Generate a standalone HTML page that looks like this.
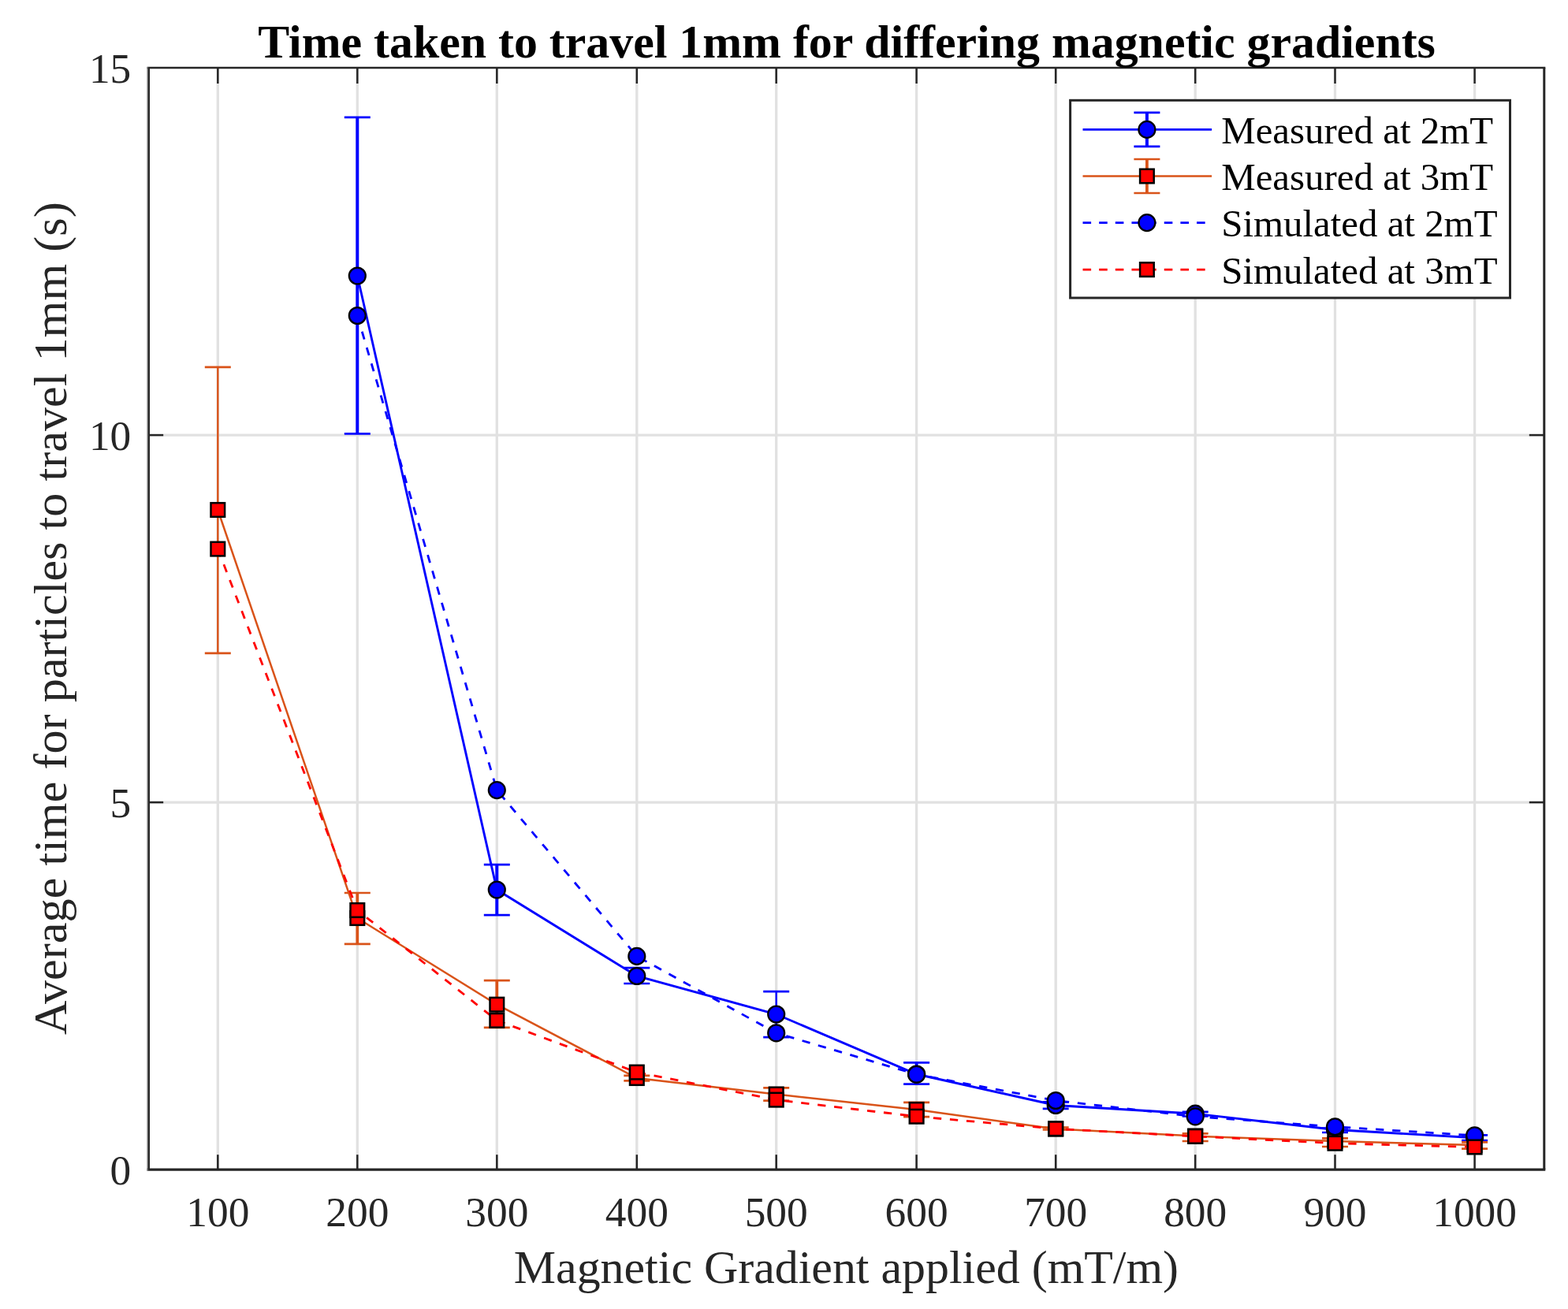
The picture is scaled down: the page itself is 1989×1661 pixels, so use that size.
<!DOCTYPE html>
<html lang="en">
<head>
<meta charset="utf-8">
<title>Time taken to travel 1mm for differing magnetic gradients</title>
<style>
html,body{margin:0;padding:0;background:#fff;}
body{width:1989px;height:1661px;overflow:hidden;}
svg{display:block;}
</style>
</head>
<body>
<svg width="1989" height="1661" viewBox="0 0 1989 1661" font-family='"Liberation Serif", "DejaVu Serif", serif'>
<rect width="1989" height="1661" fill="#fff"/>
<g stroke="#e1e1e1" stroke-width="3.3" fill="none">
<line x1="276.30" y1="86.1" x2="276.30" y2="1484.1"/>
<line x1="453.30" y1="86.1" x2="453.30" y2="1484.1"/>
<line x1="630.30" y1="86.1" x2="630.30" y2="1484.1"/>
<line x1="807.80" y1="86.1" x2="807.80" y2="1484.1"/>
<line x1="984.70" y1="86.1" x2="984.70" y2="1484.1"/>
<line x1="1162.60" y1="86.1" x2="1162.60" y2="1484.1"/>
<line x1="1339.20" y1="86.1" x2="1339.20" y2="1484.1"/>
<line x1="1516.20" y1="86.1" x2="1516.20" y2="1484.1"/>
<line x1="1693.50" y1="86.1" x2="1693.50" y2="1484.1"/>
<line x1="1870.60" y1="86.1" x2="1870.60" y2="1484.1"/>
<line x1="188.2" y1="1018.10" x2="1958.8" y2="1018.10"/>
<line x1="188.2" y1="552.10" x2="1958.8" y2="552.10"/>
</g>
<g stroke="#262626" stroke-width="2.5" fill="none">
<line x1="276.30" y1="1484.1" x2="276.30" y2="1465.1999999999998"/>
<line x1="276.30" y1="86.1" x2="276.30" y2="106.0"/>
<line x1="453.30" y1="1484.1" x2="453.30" y2="1465.1999999999998"/>
<line x1="453.30" y1="86.1" x2="453.30" y2="106.0"/>
<line x1="630.30" y1="1484.1" x2="630.30" y2="1465.1999999999998"/>
<line x1="630.30" y1="86.1" x2="630.30" y2="106.0"/>
<line x1="807.80" y1="1484.1" x2="807.80" y2="1465.1999999999998"/>
<line x1="807.80" y1="86.1" x2="807.80" y2="106.0"/>
<line x1="984.70" y1="1484.1" x2="984.70" y2="1465.1999999999998"/>
<line x1="984.70" y1="86.1" x2="984.70" y2="106.0"/>
<line x1="1162.60" y1="1484.1" x2="1162.60" y2="1465.1999999999998"/>
<line x1="1162.60" y1="86.1" x2="1162.60" y2="106.0"/>
<line x1="1339.20" y1="1484.1" x2="1339.20" y2="1465.1999999999998"/>
<line x1="1339.20" y1="86.1" x2="1339.20" y2="106.0"/>
<line x1="1516.20" y1="1484.1" x2="1516.20" y2="1465.1999999999998"/>
<line x1="1516.20" y1="86.1" x2="1516.20" y2="106.0"/>
<line x1="1693.50" y1="1484.1" x2="1693.50" y2="1465.1999999999998"/>
<line x1="1693.50" y1="86.1" x2="1693.50" y2="106.0"/>
<line x1="1870.60" y1="1484.1" x2="1870.60" y2="1465.1999999999998"/>
<line x1="1870.60" y1="86.1" x2="1870.60" y2="106.0"/>
<line x1="188.2" y1="1018.10" x2="207.2" y2="1018.10"/>
<line x1="1958.8" y1="1018.10" x2="1939.8" y2="1018.10"/>
<line x1="188.2" y1="552.10" x2="207.2" y2="552.10"/>
<line x1="1958.8" y1="552.10" x2="1939.8" y2="552.10"/>
<path d="M186.6 86.1H1960.3" stroke-width="2.5"/>
<path d="M186.6 1484.1H1960.3" stroke-width="3.4"/>
<path d="M187.1 84.89999999999999V1485.8" stroke-width="1.4" stroke="#8a8a8a"/>
<path d="M188.79999999999998 86.1V1484.1" stroke-width="2.4"/>
<path d="M1958.8 86.1V1484.1" stroke-width="3.0"/>
</g>
<g stroke="#0000ff" fill="none">
<path stroke-width="4.0" d="M453.30 148.90V550.40"/><path stroke-width="2.7" d="M436.80 148.90H469.80M436.80 550.40H469.80"/>
<path stroke-width="4.0" d="M630.30 1097.20V1161.10"/><path stroke-width="2.7" d="M613.80 1097.20H646.80M613.80 1161.10H646.80"/>
<path stroke-width="4.0" d="M807.80 1228.10V1248.00"/><path stroke-width="2.7" d="M791.30 1228.10H824.30M791.30 1248.00H824.30"/>
<path stroke-width="2.4" d="M984.70 1258.10V1316.20"/><path stroke-width="2.7" d="M968.20 1258.10H1001.20M968.20 1316.20H1001.20"/>
<path stroke-width="4.0" d="M1162.60 1348.40V1375.70"/><path stroke-width="2.7" d="M1146.10 1348.40H1179.10M1146.10 1375.70H1179.10"/>
<path stroke-width="4.0" d="M1339.20 1398.30V1406.80"/><path stroke-width="2.7" d="M1322.70 1398.30H1355.70M1322.70 1406.80H1355.70"/>
<path stroke-width="4.0" d="M1516.20 1410.90V1416.50"/><path stroke-width="2.7" d="M1499.70 1410.90H1532.70M1499.70 1416.50H1532.70"/>
<path stroke-width="4.0" d="M1693.50 1431.50V1437.00"/><path stroke-width="2.7" d="M1677.00 1431.50H1710.00M1677.00 1437.00H1710.00"/>
<path stroke-width="4.0" d="M1870.60 1440.30V1447.10"/><path stroke-width="2.7" d="M1854.10 1440.30H1887.10M1854.10 1447.10H1887.10"/>
</g>
<polyline points="453.30,350.00 630.30,1129.00 807.80,1238.50 984.70,1287.00 1162.60,1363.00 1339.20,1402.50 1516.20,1413.20 1693.50,1433.50 1870.60,1443.70" fill="none" stroke="#0000ff" stroke-width="2.9"/>
<circle cx="453.30" cy="350.00" r="10.45" fill="#0000ff" stroke="#000" stroke-width="2.3"/>
<circle cx="630.30" cy="1129.00" r="10.45" fill="#0000ff" stroke="#000" stroke-width="2.3"/>
<circle cx="807.80" cy="1238.50" r="10.45" fill="#0000ff" stroke="#000" stroke-width="2.3"/>
<circle cx="984.70" cy="1287.00" r="10.45" fill="#0000ff" stroke="#000" stroke-width="2.3"/>
<circle cx="1162.60" cy="1363.00" r="10.45" fill="#0000ff" stroke="#000" stroke-width="2.3"/>
<circle cx="1339.20" cy="1402.50" r="10.45" fill="#0000ff" stroke="#000" stroke-width="2.3"/>
<circle cx="1516.20" cy="1413.20" r="10.45" fill="#0000ff" stroke="#000" stroke-width="2.3"/>
<circle cx="1693.50" cy="1433.50" r="10.45" fill="#0000ff" stroke="#000" stroke-width="2.3"/>
<circle cx="1870.60" cy="1443.70" r="10.45" fill="#0000ff" stroke="#000" stroke-width="2.3"/>
<g stroke="#d95319" fill="none">
<path stroke-width="2.4" d="M276.30 465.80V828.90"/><path stroke-width="2.7" d="M259.80 465.80H292.80M259.80 828.90H292.80"/>
<path stroke-width="3.8" d="M453.30 1133.00V1197.90"/><path stroke-width="2.7" d="M436.80 1133.00H469.80M436.80 1197.90H469.80"/>
<path stroke-width="3.8" d="M630.30 1244.20V1303.90"/><path stroke-width="2.7" d="M613.80 1244.20H646.80M613.80 1303.90H646.80"/>
<path stroke-width="3.8" d="M807.80 1364.80V1371.30"/><path stroke-width="2.7" d="M791.30 1364.80H824.30M791.30 1371.30H824.30"/>
<path stroke-width="3.8" d="M984.70 1380.30V1396.60"/><path stroke-width="2.7" d="M968.20 1380.30H1001.20M968.20 1396.60H1001.20"/>
<path stroke-width="3.8" d="M1162.60 1398.80V1417.10"/><path stroke-width="2.7" d="M1146.10 1398.80H1179.10M1146.10 1417.10H1179.10"/>
<path stroke-width="3.8" d="M1339.20 1430.50V1433.50"/><path stroke-width="2.7" d="M1322.70 1430.50H1355.70M1322.70 1433.50H1355.70"/>
<path stroke-width="3.8" d="M1516.20 1438.40V1448.00"/><path stroke-width="2.7" d="M1499.70 1438.40H1532.70M1499.70 1448.00H1532.70"/>
<path stroke-width="3.8" d="M1693.50 1444.40V1455.00"/><path stroke-width="2.7" d="M1677.00 1444.40H1710.00M1677.00 1455.00H1710.00"/>
<path stroke-width="3.8" d="M1870.60 1449.40V1457.70"/><path stroke-width="2.7" d="M1854.10 1449.40H1887.10M1854.10 1457.70H1887.10"/>
</g>
<polyline points="276.30,647.00 453.30,1165.00 630.30,1274.70 807.80,1368.00 984.70,1388.50 1162.60,1408.00 1339.20,1432.50 1516.20,1441.60 1693.50,1448.00 1870.60,1453.00" fill="none" stroke="#d95319" stroke-width="2.5"/>
<rect x="267.50" y="638.20" width="17.6" height="17.6" fill="#ff0000" stroke="#000" stroke-width="2.5"/>
<rect x="444.50" y="1156.20" width="17.6" height="17.6" fill="#ff0000" stroke="#000" stroke-width="2.5"/>
<rect x="621.50" y="1265.90" width="17.6" height="17.6" fill="#ff0000" stroke="#000" stroke-width="2.5"/>
<rect x="799.00" y="1359.20" width="17.6" height="17.6" fill="#ff0000" stroke="#000" stroke-width="2.5"/>
<rect x="975.90" y="1379.70" width="17.6" height="17.6" fill="#ff0000" stroke="#000" stroke-width="2.5"/>
<rect x="1153.80" y="1399.20" width="17.6" height="17.6" fill="#ff0000" stroke="#000" stroke-width="2.5"/>
<rect x="1330.40" y="1423.70" width="17.6" height="17.6" fill="#ff0000" stroke="#000" stroke-width="2.5"/>
<rect x="1507.40" y="1432.80" width="17.6" height="17.6" fill="#ff0000" stroke="#000" stroke-width="2.5"/>
<rect x="1684.70" y="1439.20" width="17.6" height="17.6" fill="#ff0000" stroke="#000" stroke-width="2.5"/>
<rect x="1861.80" y="1444.20" width="17.6" height="17.6" fill="#ff0000" stroke="#000" stroke-width="2.5"/>
<polyline points="453.30,400.50 630.30,1002.60 807.80,1213.40 984.70,1310.80 1162.60,1363.30 1339.20,1396.50 1516.20,1416.80 1693.50,1429.75 1870.60,1440.80" fill="none" stroke="#0000ff" stroke-width="2.8" stroke-dasharray="10.3 10.8"/>
<circle cx="453.30" cy="400.50" r="10.45" fill="#0000ff" stroke="#000" stroke-width="2.3"/>
<circle cx="630.30" cy="1002.60" r="10.45" fill="#0000ff" stroke="#000" stroke-width="2.3"/>
<circle cx="807.80" cy="1213.40" r="10.45" fill="#0000ff" stroke="#000" stroke-width="2.3"/>
<circle cx="984.70" cy="1310.80" r="10.45" fill="#0000ff" stroke="#000" stroke-width="2.3"/>
<circle cx="1162.60" cy="1363.30" r="10.45" fill="#0000ff" stroke="#000" stroke-width="2.3"/>
<circle cx="1339.20" cy="1396.50" r="10.45" fill="#0000ff" stroke="#000" stroke-width="2.3"/>
<circle cx="1516.20" cy="1416.80" r="10.45" fill="#0000ff" stroke="#000" stroke-width="2.3"/>
<circle cx="1693.50" cy="1429.75" r="10.45" fill="#0000ff" stroke="#000" stroke-width="2.3"/>
<circle cx="1870.60" cy="1440.80" r="10.45" fill="#0000ff" stroke="#000" stroke-width="2.3"/>
<polyline points="276.30,696.60 453.30,1155.00 630.30,1294.85 807.80,1360.60 984.70,1395.60 1162.60,1416.70 1339.20,1432.30 1516.20,1441.90 1693.50,1450.70 1870.60,1455.50" fill="none" stroke="#ff0000" stroke-width="2.8" stroke-dasharray="10.3 10.8"/>
<rect x="267.50" y="687.80" width="17.6" height="17.6" fill="#ff0000" stroke="#000" stroke-width="2.5"/>
<rect x="444.50" y="1146.20" width="17.6" height="17.6" fill="#ff0000" stroke="#000" stroke-width="2.5"/>
<rect x="621.50" y="1286.05" width="17.6" height="17.6" fill="#ff0000" stroke="#000" stroke-width="2.5"/>
<rect x="799.00" y="1351.80" width="17.6" height="17.6" fill="#ff0000" stroke="#000" stroke-width="2.5"/>
<rect x="975.90" y="1386.80" width="17.6" height="17.6" fill="#ff0000" stroke="#000" stroke-width="2.5"/>
<rect x="1153.80" y="1407.90" width="17.6" height="17.6" fill="#ff0000" stroke="#000" stroke-width="2.5"/>
<rect x="1330.40" y="1423.50" width="17.6" height="17.6" fill="#ff0000" stroke="#000" stroke-width="2.5"/>
<rect x="1507.40" y="1433.10" width="17.6" height="17.6" fill="#ff0000" stroke="#000" stroke-width="2.5"/>
<rect x="1684.70" y="1441.90" width="17.6" height="17.6" fill="#ff0000" stroke="#000" stroke-width="2.5"/>
<rect x="1861.80" y="1446.70" width="17.6" height="17.6" fill="#ff0000" stroke="#000" stroke-width="2.5"/>
<rect x="1357.6" y="127.3" width="557.90" height="250.70" fill="#fff" stroke="#262626" stroke-width="3"/>
<g stroke="#0000ff" fill="none"><path stroke-width="2.9" d="M1373.5 164.4H1537.1"/><path stroke-width="4.0" d="M1454.90 142.90V185.90"/><path stroke-width="2.7" d="M1438.40 142.90H1471.40M1438.40 185.90H1471.40"/></g>
<circle cx="1454.90" cy="164.40" r="10.45" fill="#0000ff" stroke="#000" stroke-width="2.3"/>
<g stroke="#d95319" fill="none"><path stroke-width="2.5" d="M1373.5 223.5H1537.1"/><path stroke-width="3.8" d="M1454.90 202.00V245.00"/><path stroke-width="2.7" d="M1438.40 202.00H1471.40M1438.40 245.00H1471.40"/></g>
<rect x="1446.10" y="214.70" width="17.6" height="17.6" fill="#ff0000" stroke="#000" stroke-width="2.5"/>
<path d="M1373.5 282.6H1537.1" stroke="#0000ff" stroke-width="2.8" stroke-dasharray="10.6 10.05" fill="none"/>
<circle cx="1454.90" cy="282.60" r="10.45" fill="#0000ff" stroke="#000" stroke-width="2.3"/>
<path d="M1373.5 342.1H1537.1" stroke="#ff0000" stroke-width="2.8" stroke-dasharray="10.6 10.05" fill="none"/>
<rect x="1446.10" y="333.30" width="17.6" height="17.6" fill="#ff0000" stroke="#000" stroke-width="2.5"/>
<g font-size="48.9" fill="#000">
<text x="1549.2" y="182.10">Measured at 2mT</text>
<text x="1549.2" y="241.20">Measured at 3mT</text>
<text x="1549.2" y="300.30">Simulated at 2mT</text>
<text x="1549.2" y="359.80">Simulated at 3mT</text>
</g>
<g font-size="53.4" fill="#262626" text-anchor="middle">
<text x="276.30" y="1556.2">100</text>
<text x="453.30" y="1556.2">200</text>
<text x="630.30" y="1556.2">300</text>
<text x="807.80" y="1556.2">400</text>
<text x="984.70" y="1556.2">500</text>
<text x="1162.60" y="1556.2">600</text>
<text x="1339.20" y="1556.2">700</text>
<text x="1516.20" y="1556.2">800</text>
<text x="1693.50" y="1556.2">900</text>
<text x="1870.60" y="1556.2">1000</text>
</g>
<g font-size="53.4" fill="#262626" text-anchor="end">
<text x="166.3" y="1503.30">0</text>
<text x="166.3" y="1037.30">5</text>
<text x="166.3" y="571.30">10</text>
<text x="166.3" y="105.30">15</text>
</g>
<text x="1073.4" y="1628.2" font-size="59.9" fill="#262626" text-anchor="middle">Magnetic Gradient applied (mT/m)</text>
<text transform="translate(83.5 784.6) rotate(-90)" font-size="60.2" fill="#262626" text-anchor="middle">Average time for particles to travel 1mm (s)</text>
<text x="1074.1" y="72.9" font-size="59.85" font-weight="bold" fill="#000" text-anchor="middle">Time taken to travel 1mm for differing magnetic gradients</text>
</svg>
</body>
</html>
